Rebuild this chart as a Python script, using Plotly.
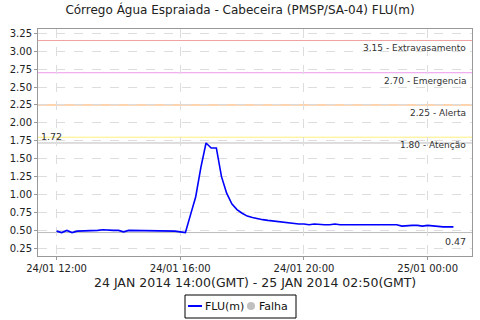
import plotly.graph_objects as go
import pandas as pd

title = "Córrego Água Espraiada - Cabeceira (PMSP/SA-04) FLU(m)"
subtitle = "24 JAN 2014 14:00(GMT) - 25 JAN 2014 02:50(GMT)"

start_time = "2014-01-24 12:00"
step = "10min"
flu_values = [
    0.49, 0.47, 0.50, 0.47, 0.49, 0.49, 0.49, 0.50, 0.50, 0.51, 0.50, 0.50,
    0.50, 0.48, 0.50, 0.50, 0.50, 0.50, 0.50, 0.50, 0.49, 0.49, 0.49, 0.49,
    0.48, 0.47, 0.72, 0.97, 1.38, 1.72, 1.65, 1.65, 1.25, 1.02, 0.87, 0.79,
    0.74, 0.70, 0.68, 0.66, 0.65, 0.64, 0.63, 0.62, 0.61, 0.60, 0.60, 0.59,
    0.59, 0.58, 0.59, 0.58, 0.58, 0.58, 0.59, 0.58, 0.58, 0.58, 0.58, 0.58,
    0.57, 0.57, 0.57, 0.57, 0.58, 0.57, 0.58, 0.56, 0.57, 0.57, 0.57, 0.56,
    0.57, 0.56, 0.56, 0.55, 0.55, 0.55,
]
times = pd.date_range(start_time, periods=len(flu_values), freq=step)

thr_values = [3.15, 2.70, 2.25, 1.80]
thr_names = ["Extravasamento", "Emergencia", "Alerta", "Atenção"]
thr_colors = ["#f0a0a0", "#ee99ee", "#ffaa60", "#fff07a"]

max_val = 1.72
min_val = 0.47

legend_names = ["FLU(m)", "Falha"]

x_ticks = ["2014-01-24 12:00", "2014-01-24 16:00", "2014-01-24 20:00", "2014-01-25 00:00"]
x_tick_labels = ["24/01 12:00", "24/01 16:00", "24/01 20:00", "25/01 00:00"]
y_ticks = [0.25, 0.50, 0.75, 1.00, 1.25, 1.50, 1.75, 2.00, 2.25, 2.50, 2.75, 3.00, 3.25]

FONT = "DejaVu Sans"
LINE_BLUE = "#0000ff"
FALHA_GRAY = "#c0c0c0"

fig = go.Figure()
fig.add_trace(go.Scatter(x=times, y=flu_values, mode="lines", name=legend_names[0],
                         line=dict(color=LINE_BLUE, width=1.6), showlegend=False))

shapes = []
annotations = []
for v, n, c in zip(thr_values, thr_names, thr_colors):
    shapes.append(dict(type="line", xref="paper", x0=0, x1=1, yref="y", y0=v, y1=v,
                       line=dict(color=c, width=1), layer="between"))
    annotations.append(dict(xref="paper", x=0.99, yref="y", y=v, text=f"{v:.2f} - {n}",
                            showarrow=False, xanchor="right", yanchor="top", yshift=-1,
                            font=dict(family=FONT, size=9, color="#333333")))
for v in [max_val, min_val]:
    shapes.append(dict(type="line", xref="paper", x0=0, x1=1, yref="y", y0=v, y1=v,
                       line=dict(color="#bbbbbb", width=1), layer="between"))
annotations.append(dict(xref="paper", x=0.003, yref="y", y=max_val, text=f"{max_val:.2f}",
                        showarrow=False, xanchor="left", yanchor="bottom", yshift=-1,
                        font=dict(family=FONT, size=9.5, color="#333333")))
annotations.append(dict(xref="paper", x=0.99, yref="y", y=min_val, text=f"{min_val:.2f}",
                        showarrow=False, xanchor="right", yanchor="top", yshift=-1,
                        font=dict(family=FONT, size=9.5, color="#333333")))
annotations.append(dict(xref="paper", x=0.5, yref="paper", y=0, yshift=-26, text=subtitle,
                        showarrow=False, xanchor="center", yanchor="middle",
                        font=dict(family=FONT, size=12.5, color="#222222")))

# manual legend (plot area: 434 x 227 px)
W, H = 434.0, 227.0
def px(xp):
    return (xp - 38) / W
def py(yp):
    return (256 - yp) / H

shapes.append(dict(type="rect", xref="paper", yref="paper", x0=px(185), x1=px(296),
                   y0=py(318), y1=py(295), line=dict(color="black", width=1),
                   fillcolor="white"))
shapes.append(dict(type="line", xref="paper", yref="paper", x0=px(188), x1=px(202),
                   y0=py(306), y1=py(306), line=dict(color=LINE_BLUE, width=2)))
shapes.append(dict(type="circle", xref="paper", yref="paper", x0=px(247), x1=px(255),
                   y0=py(310), y1=py(302), line=dict(color=FALHA_GRAY, width=0),
                   fillcolor=FALHA_GRAY))
annotations.append(dict(xref="paper", yref="paper", x=px(203), y=py(306.5),
                        text=legend_names[0], showarrow=False, xanchor="left",
                        yanchor="middle", font=dict(family=FONT, size=11, color="#111111")))
annotations.append(dict(xref="paper", yref="paper", x=px(257), y=py(306.5),
                        text=legend_names[1], showarrow=False, xanchor="left",
                        yanchor="middle", font=dict(family=FONT, size=11, color="#111111")))

fig.update_layout(
    width=480, height=320,
    margin=dict(l=38, r=8, t=29, b=64, autoexpand=False),
    paper_bgcolor="white", plot_bgcolor="white",
    title=dict(text=title, x=0.5, xanchor="center", y=0.968, yanchor="middle",
               font=dict(family=FONT, size=12, color="#222222")),
    font=dict(family=FONT, size=10, color="#222222"),
    showlegend=False,
    shapes=shapes, annotations=annotations,
)
fig.update_xaxes(range=["2014-01-24 11:24", "2014-01-25 01:26"],
                 tickvals=x_ticks, ticktext=x_tick_labels,
                 showgrid=True, gridcolor="#dddddd", griddash="dash", gridwidth=1,
                 showline=True, linecolor="#999999", mirror=True, linewidth=1,
                 ticks="outside", ticklen=3, tickcolor="#999999",
                 tickfont=dict(family=FONT, size=10), zeroline=False)
fig.update_yaxes(range=[0.143, 3.31], tickvals=y_ticks, tickformat=".2f",
                 showgrid=True, gridcolor="#dddddd", griddash="dash", gridwidth=1,
                 showline=True, linecolor="#999999", mirror=True, linewidth=1,
                 ticks="outside", ticklen=3, tickcolor="#999999",
                 tickfont=dict(family=FONT, size=10), zeroline=False)

fig.write_html("out.html")
